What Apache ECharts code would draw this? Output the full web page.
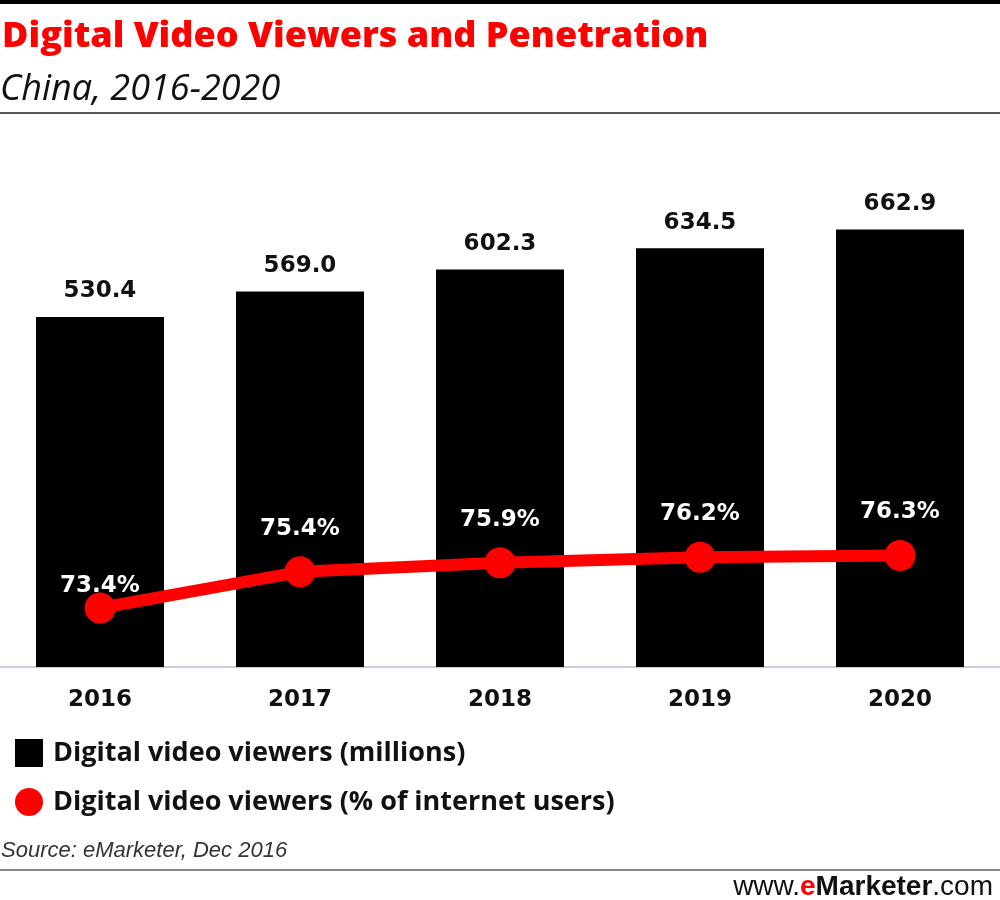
<!DOCTYPE html>
<html><head><meta charset="utf-8">
<script src="https://cdn.jsdelivr.net/npm/echarts@6/dist/echarts.min.js"></script>
<style>html,body{margin:0;padding:0;background:#fff}#c{width:1000px;height:900px}</style>
</head><body><div id="c"></div>
<script>
const categories = ['2016','2017','2018','2019','2020'];
const viewers = [530.4, 569.0, 602.3, 634.5, 662.9];
const penetration = [73.4, 75.4, 75.9, 76.2, 76.3];
const seriesNames = ['Digital video viewers (millions)', 'Digital video viewers (% of internet users)'];

const chart = echarts.init(document.getElementById('c'));
const numFont = 'DejaVu Sans';
const openFont = '"Open Sans", sans-serif';
const arialFont = '"Liberation Sans", Arial, sans-serif';

chart.setOption({
  animation: false,
  backgroundColor: '#fff',
  grid: {left: 0, right: 0, top: 205, bottom: 233},
  xAxis: {
    type: 'category', data: categories,
    axisTick: {show: false},
    axisLine: {lineStyle: {color: '#c5d0df', width: 2}},
    axisLabel: {color: '#111', fontFamily: numFont, fontWeight: 'bold', fontSize: 23, margin: 22}
  },
  yAxis: [
    {type: 'value', min: 0, max: 700, show: false, splitLine: {show: false}},
    {type: 'value', min: 70.14, max: 95.67, show: false, splitLine: {show: false}}
  ],
  legend: {
    orient: 'vertical', left: 10, top: 734, itemGap: 21,
    itemWidth: 28, itemHeight: 28, selectedMode: false,
    textStyle: {fontFamily: openFont, fontWeight: 'bold', fontSize: 27, color: '#111', padding: [0, 0, 0, 5]},
    data: [
      {name: seriesNames[0], icon: 'rect'},
      {name: seriesNames[1], icon: 'circle'}
    ]
  },
  series: [
    {
      name: seriesNames[0], type: 'bar', data: viewers, barWidth: 128,
      itemStyle: {color: '#000'},
      label: {show: true, position: 'top', distance: 14, color: '#111',
        fontFamily: numFont, fontWeight: 'bold', fontSize: 23,
        formatter: p => p.value.toFixed(1)}
    },
    {
      name: seriesNames[1], type: 'line', yAxisIndex: 1,
      data: penetration.map((v, i) => i === 0 ? {value: v, label: {offset: [0, 21]}} : v),
      symbol: 'circle', symbolSize: 31,
      lineStyle: {color: '#ff0000', width: 12},
      itemStyle: {color: '#ff0000'},
      label: {show: true, position: 'top', distance: 16, color: '#fff',
        fontFamily: numFont, fontWeight: 'bold', fontSize: 23,
        formatter: p => p.value.toFixed(1) + '%'},
      z: 5
    }
  ],
  graphic: [
    {type: 'rect', shape: {x: 0, y: 0, width: 1000, height: 4}, style: {fill: '#000'}},
    {type: 'text', left: 2, top: 19, style: {text: 'Digital Video Viewers and Penetration',
      fill: '#ff0000', font: '800 36px ' + openFont}},
    {type: 'text', left: 0, top: 72, style: {text: 'China, 2016-2020',
      fill: '#111', font: 'italic 36px ' + openFont}},
    {type: 'rect', shape: {x: 0, y: 112, width: 1000, height: 2}, style: {fill: '#555'}},
    {type: 'text', left: 1, top: 840, style: {text: 'Source: eMarketer, Dec 2016',
      fill: '#333', font: 'italic 22px ' + arialFont}},
    {type: 'rect', shape: {x: 0, y: 869, width: 1000, height: 2}, style: {fill: '#888'}},
    {type: 'text', right: 7, top: 873, style: {
      text: '{a|www.}{b|e}{c|Marketer}{a|.com}',
      rich: {
        a: {font: '28px ' + arialFont, fill: '#111'},
        b: {font: 'bold 28px ' + arialFont, fill: '#ff0000'},
        c: {font: 'bold 28px ' + arialFont, fill: '#111'}
      }}}
  ]
});
</script></body></html>
